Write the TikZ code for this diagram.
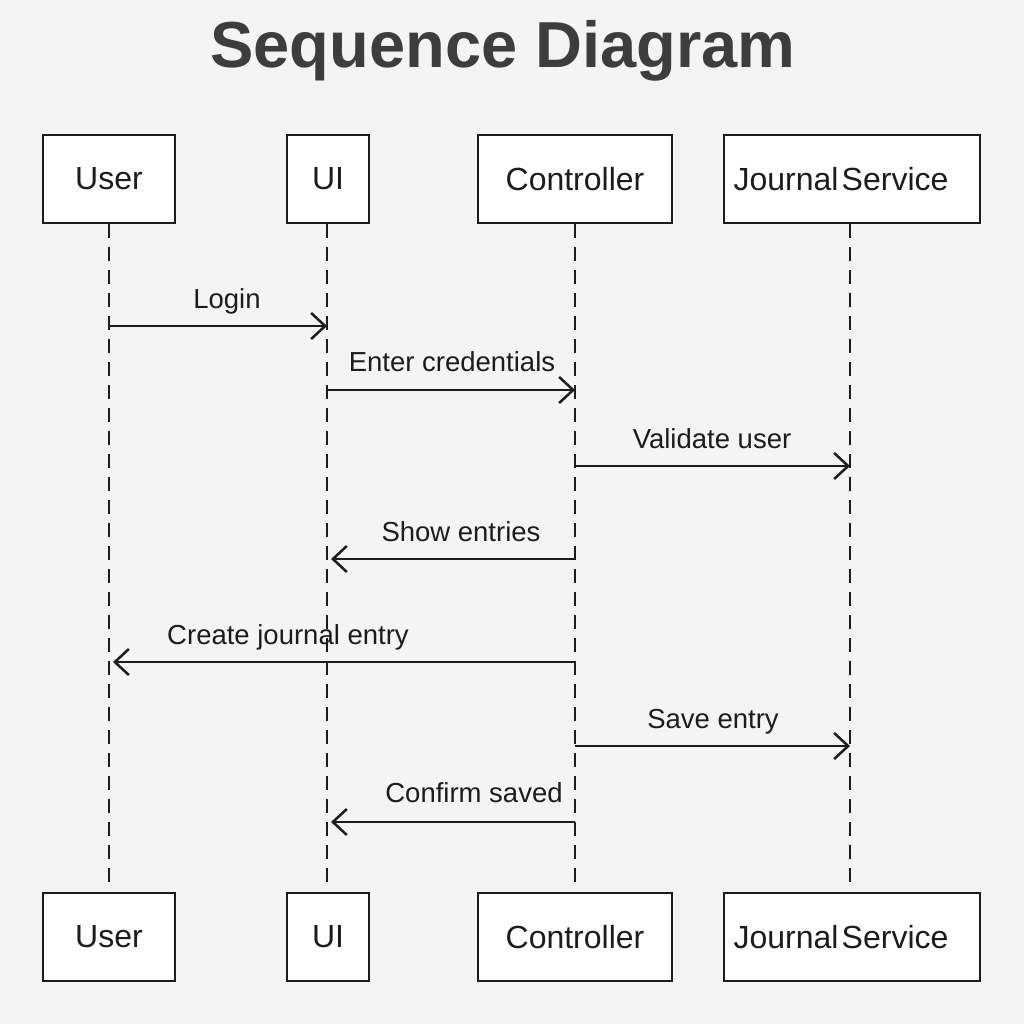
\documentclass[tikz,border=0pt]{standalone}
\usepackage{fontspec}
\setmainfont{Liberation Sans}
\usetikzlibrary{arrows.meta}
\definecolor{bg}{HTML}{F4F4F4}
\definecolor{ink}{HTML}{1C1C1C}
\definecolor{titleink}{HTML}{3D3D3D}
\begin{document}
\begin{tikzpicture}[x=1pt,y=-1pt,
  actor/.style={draw=ink, fill=white, line width=2.6pt, minimum height=88pt, inner sep=0pt, text=ink, font=\fontsize{32}{36}\selectfont},
  life/.style={draw=ink, line width=2pt, dash pattern=on 14pt off 9pt},
  msg/.style={draw=ink, line width=2.5pt, -{Straight Barb[length=14pt,width=26pt,line width=2.5pt]}},
  back/.style={msg, shorten >=4pt},
  lbl/.style={anchor=base, text=ink, inner sep=0pt, font=\fontsize{27.5}{30}\selectfont}]
\fill[bg] (0,0) rectangle (1024,1024);
\useasboundingbox (0,0) rectangle (1024,1024);
\node[anchor=base, text=titleink, inner sep=0pt, font=\fontsize{65}{70}\selectfont\bfseries] (title) at (503,68) {Sequence Diagram};
% top actors
\node[actor, minimum width=132pt] (u1) at (109,179) {User};
\node[actor, minimum width=82pt]  (i1) at (328,179) {UI};
\node[actor, minimum width=194pt] (c1) at (575,179) {Controller};
\node[actor, minimum width=256pt] (j1) at (852,179) {Journal\kern0.1em Service\kern22pt};
% bottom actors
\node[actor, minimum width=132pt] (u2) at (109,937) {User};
\node[actor, minimum width=82pt]  (i2) at (328,937) {UI};
\node[actor, minimum width=194pt] (c2) at (575,937) {Controller};
\node[actor, minimum width=256pt] (j2) at (852,937) {Journal\kern0.1em Service\kern22pt};
% lifeline ends
\coordinate (ue) at (109,885);
\coordinate (ie) at (327,885);
\coordinate (ce) at (575,885);
\coordinate (je) at (850,885);
\draw[life] (109,224) -- (ue);
\draw[life] (327,224) -- (ie);
\draw[life] (575,224) -- (ce);
\draw[life] (850,224) -- (je);
% messages
\coordinate (m1a) at (109,326); \coordinate (m1b) at (327,326);
\coordinate (m2a) at (327,390); \coordinate (m2b) at (575,390);
\coordinate (m3a) at (575,466); \coordinate (m3b) at (850,466);
\coordinate (m4a) at (575,559); \coordinate (m4b) at (327,559);
\coordinate (m5a) at (575,662); \coordinate (m5b) at (109,662);
\coordinate (m6a) at (575,746); \coordinate (m6b) at (850,746);
\coordinate (m7a) at (575,822); \coordinate (m7b) at (327,822);
\draw[msg] (m1a) -- (m1b);
\draw[msg] (m2a) -- (m2b);
\draw[msg] (m3a) -- (m3b);
\draw[back] (m4a) -- (m4b);
\draw[back] (m5a) -- (m5b);
\draw[msg] (m6a) -- (m6b);
\draw[back] (m7a) -- (m7b);
\node[lbl] (l1) at (227,308) {Login};
\node[lbl] (l2) at (452,371) {Enter credentials};
\node[lbl] (l3) at (712,448) {Validate user};
\node[lbl] (l4) at (461,541) {Show entries};
\node[lbl] (l5) at (288,644) {Create journal entry};
\node[lbl] (l6) at (713,728) {Save entry};
\node[lbl] (l7) at (474,802) {Confirm saved};
\end{tikzpicture}
\end{document}
